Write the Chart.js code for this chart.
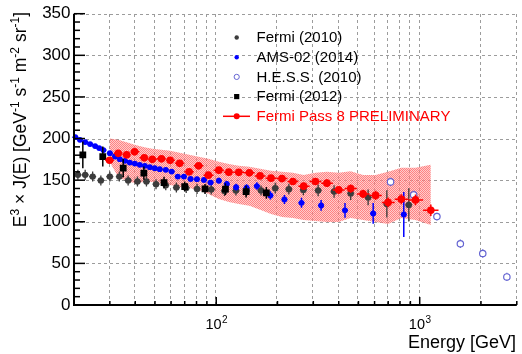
<!DOCTYPE html>
<html>
<head>
<meta charset="utf-8">
<script src="https://cdn.jsdelivr.net/npm/chart.js@4.4.0/dist/chart.umd.min.js"></script>
<style>
  html, body { margin: 0; padding: 0; background: #fff; }
  #wrap { width: 522px; height: 354px; }
</style>
</head>
<body>
<div id="wrap"><canvas id="c" width="522" height="354"></canvas></div>
<script>
// values (E in GeV, E^3 J(E) in GeV^2 s^-1 m^-2 sr^-1)
const amsE = [20.3, 21.4, 22.7, 24.0, 25.4, 26.6, 27.9, 30.0, 31.8, 33.6, 35.6, 37.6, 39.8, 42.1, 44.6, 47.2, 49.9, 52.8, 56.5, 60.4,
  64.7, 69.4, 74.8, 80.4, 87.0, 93.8, 103, 112.7, 125.3, 141, 158.4, 184.5, 216.4, 262.4, 327.6, 429.4, 590.6, 835];
const amsFlux = [201.7, 198.4, 195.7, 193.3, 190.9, 188.5, 186.1, 182.4, 178.4, 175.2, 173.2, 171.1, 169.9, 168.4, 167.2, 165.6, 164.4, 163.2, 162.4, 160.3,
  154.3, 154.3, 151.5, 151.2, 150.3, 147.1, 149.4, 145.5, 141.6, 141, 142.9, 131.7, 126.8, 122.8, 119.6, 113.7, 110.0, 108.8];
const amsErr = [2.5, 2.5, 2.5, 2.5, 2.5, 2.5, 2.5, 2.5, 2.5, 2.5, 2.5, 2.5, 2.5, 2.5, 2.5, 2.5, 2.5, 2.5, 2.5, 2.5,
  3, 3, 3, 3, 3, 3, 3.5, 3.5, 4, 4, 4.5, 5, 5.5, 6, 6.5, 9, 12.5, 27];

const fermi10E = [20.9, 22.7, 24.7, 27.1, 30.0, 33.4, 36.9, 41.0, 45.4, 50.6, 56.5, 63.7, 71.2, 80.5, 94.5, 109.8, 125, 140.7,
  166, 195, 227.5, 268, 316.8, 379.5, 458, 557.8, 689.4, 883.6];
const fermi10Flux = [156.4, 156.4, 154.3, 149.7, 154.3, 154.3, 149.7, 148.3, 148.3, 145.2, 144.0, 141.1, 140.7, 139.5, 138.9, 137.1, 137.5, 137.1,
  137.7, 140.4, 139.2, 138.3, 137.7, 136.3, 134.1, 129.3, 121.5, 120.3];
const fermi10Err = [6, 6, 6, 6, 6, 6, 6, 6, 6, 6, 6, 6, 6, 6, 6, 6, 6, 6, 6, 6.5, 6.5, 6.5, 7, 7.5, 8, 9.5, 16.5, 20];

const fermi12E = [22.1, 27.7, 34.9, 44.1, 55.4, 70.0, 88.1, 111, 140.2, 176.3];
const fermi12Flux = [180.4, 178.4, 164.4, 158.4, 147.1, 142.3, 139.5, 139.2, 136.3, 134.7];
const fermi12Err = [16, 12, 11, 8, 7, 6, 6, 7, 7, 7];

const hessE = [719, 934, 1215, 1584, 2041, 2681];
const hessFlux = [147.9, 132.3, 106.2, 73.6, 61.9, 33.7];
const hessErr = [5, 5, 4.5, 5, 5, 5];

const pass8E = [29.9, 33.0, 36.3, 39.7, 44.3, 48.5, 53.8, 59.4, 66.1, 73.6, 81.9, 91.5, 103, 115.3, 129, 145.5,
  164.2, 185.9, 210.4, 238.2, 269, 307.3, 349.8, 400, 458, 527, 607, 699, 812, 953, 1134];
const pass8Flux = [174.0, 182.2, 180.4, 184.0, 176.8, 175.0, 175.6, 173.8, 170.2, 160.0, 167.2, 156.0, 162.0, 159.6, 159.4, 158.8,
  155.1, 152.4, 151.9, 148.3, 142.8, 148.3, 146.4, 138.3, 139.9, 133.5, 131.7, 123.3, 127.2, 126.3, 113.8];
const pass8Err = [3, 3, 3, 3, 3, 3, 3, 3, 3, 3, 3, 3, 3, 3, 3, 3, 3.5, 3.5, 3.5, 4, 4, 4, 4.5, 4.5, 5, 5, 5.5, 6, 6, 6.5, 7];
// systematic band
const pass8BandHi = [200.2, 198.4, 195.4, 192.4, 189.4, 187.6, 186.4, 185.2, 182.8, 180.4, 178.0, 175.6, 172.0, 169.5, 167.2, 166.0,
  163.6, 161.2, 160.0, 158.8, 156.3, 158.8, 160.0, 158.8, 160.6, 156.3, 156.3, 160.0, 164.8, 164.8, 168.4];
const pass8BandLo = [172.0, 153.9, 149.1, 146.7, 147.9, 147.9, 145.5, 144.3, 141.9, 140.7, 138.3, 133.5, 127.5, 123.9, 121.5, 119.1,
  114.3, 109.4, 105.8, 104.6, 102.2, 101.0, 99.8, 99.8, 104.6, 102.2, 99.8, 97.4, 104.6, 102.2, 96.2];

const xRange = [20, 3000];
const yRange = [0, 350];
const xGridValues = [30, 40, 50, 60, 70, 80, 90, 100, 200, 300, 400, 500, 600, 700, 800, 900, 1000, 2000, 3000];
const xMinorTicks = [20, 30, 40, 50, 60, 70, 80, 90, 200, 300, 400, 500, 600, 700, 800, 900, 2000, 3000];
const xDecades = [100, 1000];
const legendLabels = ['Fermi (2010)', 'AMS-02 (2014)', 'H.E.S.S. (2010)', 'Fermi (2012)', 'Fermi Pass 8 PRELIMINARY'];

const FONT = '"Liberation Sans", Arial, Helvetica, sans-serif';
const toXY = (xs, ys) => xs.map((x, i) => ({ x: x, y: ys[i] }));

// checkered fill like ROOT style 3001
function checkerPattern() {
  const c = document.createElement('canvas');
  c.width = 2; c.height = 2;
  const g = c.getContext('2d');
  g.fillStyle = 'rgba(255,100,100,0.8)';
  g.fillRect(0, 0, 1, 1); g.fillRect(1, 1, 1, 1);
  g.fillStyle = 'rgba(255,160,160,0.55)';
  g.fillRect(1, 0, 1, 1); g.fillRect(0, 1, 1, 1);
  return document.getElementById('c').getContext('2d').createPattern(c, 'repeat');
}

// error bars, drawn just before each dataset's markers
const errorBars = {
  id: 'errorBars',
  beforeDatasetDraw(chart, args) {
    const ds = chart.data.datasets[args.index];
    if (!ds.errY) return;
    const ys = chart.scales.y;
    const pts = args.meta.data;
    const ctx = chart.ctx;
    ctx.save();
    ctx.strokeStyle = ds.errColor;
    ctx.lineWidth = ds.errWidth;
    pts.forEach((pt, i) => {
      const v = ds.data[i].y, e = ds.errY[i];
      ctx.beginPath();
      ctx.moveTo(pt.x, ys.getPixelForValue(v + e));
      ctx.lineTo(pt.x, ys.getPixelForValue(v - e));
      let hl = ds.errXpx || 0, hr = hl;
      if (ds.errXBins) {
        const prev = pts[i - 1], next = pts[i + 1];
        hl = prev ? (pt.x - prev.x) / 2 : (next.x - pt.x) / 2;
        hr = next ? (next.x - pt.x) / 2 : hl;
      }
      if (hl || hr) {
        ctx.moveTo(pt.x - hl, pt.y);
        ctx.lineTo(pt.x + hr, pt.y);
      }
      ctx.stroke();
    });
    ctx.restore();
  }
};

// ROOT-like frame: dashed grid, inward ticks, labels, legend
const rootFrame = {
  id: 'rootFrame',
  beforeDatasetsDraw(chart) {
    const { ctx, chartArea: a, scales: { x, y } } = chart;
    ctx.save();
    ctx.strokeStyle = '#9c9c9c';
    ctx.lineWidth = 1;
    ctx.setLineDash([3, 3]);
    xGridValues.forEach(v => {
      const px = Math.round(x.getPixelForValue(v)) - 0.5;
      ctx.beginPath(); ctx.moveTo(px, a.bottom); ctx.lineTo(px, a.top); ctx.stroke();
    });
    for (let v = 50; v <= yRange[1]; v += 50) {
      const py = Math.round(y.getPixelForValue(v)) + 0.5;
      ctx.beginPath(); ctx.moveTo(a.left, py); ctx.lineTo(a.right, py); ctx.stroke();
    }
    ctx.restore();
  },
  afterDatasetsDraw(chart) {
    const { ctx, chartArea: a, scales: { x, y } } = chart;
    ctx.save();
    // axes
    ctx.strokeStyle = '#000';
    ctx.lineWidth = 2;
    ctx.beginPath();
    ctx.moveTo(a.left, a.top); ctx.lineTo(a.left, a.bottom); ctx.lineTo(a.right, a.bottom);
    ctx.stroke();
    ctx.lineWidth = 1.5;
    for (let v = 0; v <= yRange[1]; v += 10) {
      const py = y.getPixelForValue(v);
      const len = v % 50 === 0 ? 11 : 6;
      ctx.beginPath(); ctx.moveTo(a.left, py); ctx.lineTo(a.left + len, py); ctx.stroke();
    }
    xMinorTicks.forEach(v => {
      const px = x.getPixelForValue(v);
      ctx.beginPath(); ctx.moveTo(px, a.bottom); ctx.lineTo(px, a.bottom - 4); ctx.stroke();
    });
    xDecades.forEach(v => {
      const px = x.getPixelForValue(v);
      ctx.beginPath(); ctx.moveTo(px, a.bottom); ctx.lineTo(px, a.bottom - 8); ctx.stroke();
    });

    // x labels 10^n
    ctx.fillStyle = '#000';
    ctx.textBaseline = 'alphabetic';
    ctx.textAlign = 'left';
    xDecades.forEach(v => {
      const px = x.getPixelForValue(v);
      const exp = String(Math.round(Math.log10(v)));
      ctx.font = '14.5px ' + FONT;
      const w1 = ctx.measureText('10').width;
      ctx.font = '10px ' + FONT;
      const w2 = ctx.measureText(exp).width;
      const x0 = px - (w1 + w2) / 2;
      ctx.font = '14.5px ' + FONT;
      ctx.fillText('10', x0, 328.5);
      ctx.font = '10px ' + FONT;
      ctx.fillText(exp, x0 + w1 + 0.5, 322.5);
    });

    // x title
    ctx.font = '18px ' + FONT;
    ctx.textAlign = 'right';
    ctx.fillText('Energy [GeV]', 516, 348);

    // y title, rotated, right-aligned to top
    const parts = [['E', 0], ['3', 1], [' \u00d7 J(E) [GeV', 0], ['-1', 1], [' s', 0], ['-1', 1],
      [' m', 0], ['-2', 1], [' sr', 0], ['-1', 1], [']', 0]];
    const fMain = '17.5px ' + FONT, fSup = '12px ' + FONT;
    let total = 0;
    parts.forEach(p => { ctx.font = p[1] ? fSup : fMain; total += ctx.measureText(p[0]).width; });
    ctx.save();
    ctx.translate(26, 12 + total);
    ctx.rotate(-Math.PI / 2);
    ctx.textAlign = 'left';
    let cx = 0;
    parts.forEach(p => {
      ctx.font = p[1] ? fSup : fMain;
      ctx.fillText(p[0], cx, p[1] ? -7 : 0);
      cx += ctx.measureText(p[0]).width;
    });
    ctx.restore();

    // legend
    const mx = 236.7, tx = 256.5;
    const rows = [37.5, 57.2, 76.9, 96.6, 116.3];
    ctx.textAlign = 'left';
    ctx.textBaseline = 'middle';
    ctx.font = '15px ' + FONT;
    legendLabels.forEach((t, i) => {
      const ry = rows[i];
      ctx.fillStyle = i === 4 ? '#ff0000' : '#000';
      ctx.fillText(t, tx, ry + 0.5);
    });
    ctx.fillStyle = '#3c3c3c';
    ctx.beginPath(); ctx.arc(mx, rows[0], 2.2, 0, Math.PI * 2); ctx.fill();
    ctx.fillStyle = '#0000ff';
    ctx.beginPath(); ctx.arc(mx, rows[1], 2.2, 0, Math.PI * 2); ctx.fill();
    ctx.strokeStyle = '#6464d2'; ctx.lineWidth = 1;
    ctx.beginPath(); ctx.arc(mx, rows[2], 2.6, 0, Math.PI * 2); ctx.stroke();
    ctx.fillStyle = '#000';
    ctx.fillRect(mx - 2.6, rows[3] - 2.6, 5.2, 5.2);
    ctx.strokeStyle = '#ff0000'; ctx.lineWidth = 1.5;
    ctx.beginPath(); ctx.moveTo(223, rows[4]); ctx.lineTo(250, rows[4]); ctx.stroke();
    ctx.fillStyle = '#ff0000';
    ctx.beginPath(); ctx.arc(mx, rows[4], 3, 0, Math.PI * 2); ctx.fill();
    ctx.restore();
  }
};

const datasets = [
  {
    label: 'Fermi Pass 8 PRELIMINARY', data: toXY(pass8E, pass8Flux),
    pointStyle: 'circle', pointRadius: 3.8, backgroundColor: '#ff0000', borderColor: '#ff0000', borderWidth: 0,
    errY: pass8Err, errXBins: true, errColor: '#ff0000', errWidth: 1.5
  },
  {
    label: 'Fermi (2012)', data: toXY(fermi12E, fermi12Flux),
    pointStyle: 'rect', pointRadius: 4.8, backgroundColor: '#000', borderColor: '#000', borderWidth: 0,
    errY: fermi12Err, errXpx: 0, errColor: '#000', errWidth: 1.5
  },
  {
    label: 'H.E.S.S. (2010)', data: toXY(hessE, hessFlux),
    pointStyle: 'circle', pointRadius: 3.2, backgroundColor: '#fff', borderColor: '#6464d2', borderWidth: 1.2,
    errY: hessErr, errXpx: 0, errColor: '#6464d2', errWidth: 1.2
  },
  {
    label: 'AMS-02 (2014)', data: toXY(amsE, amsFlux),
    pointStyle: 'circle', pointRadius: 2.9, backgroundColor: '#0000ff', borderColor: '#0000ff', borderWidth: 0,
    errY: amsErr, errXpx: 3, errColor: '#0000ff', errWidth: 1.5
  },
  {
    label: 'Fermi (2010)', data: toXY(fermi10E, fermi10Flux),
    pointStyle: 'circle', pointRadius: 3.2, backgroundColor: '#3c3c3c', borderColor: '#3c3c3c', borderWidth: 0,
    errY: fermi10Err, errXpx: 3.5, errColor: '#3c3c3c', errWidth: 1.3
  },
  {
    type: 'line', label: 'band hi', data: toXY(pass8E, pass8BandHi),
    borderWidth: 0, pointRadius: 0, tension: 0, fill: '+1', backgroundColor: checkerPattern()
  },
  {
    type: 'line', label: 'band lo', data: toXY(pass8E, pass8BandLo),
    borderWidth: 0, pointRadius: 0, tension: 0, fill: false
  }
];

new Chart(document.getElementById('c'), {
  type: 'scatter',
  data: { datasets: datasets },
  options: {
    responsive: false,
    animation: false,
    devicePixelRatio: 1,
    events: [],
    layout: { padding: { top: 13.5, right: 3.5, left: 0, bottom: 0 } },
    plugins: { legend: { display: false }, tooltip: { enabled: false } },
    scales: {
      x: {
        type: 'logarithmic', min: xRange[0], max: xRange[1],
        ticks: { display: false },
        grid: { display: false, drawTicks: false },
        border: { display: false },
        afterFit(s) { s.height = 49; }
      },
      y: {
        type: 'linear', min: yRange[0], max: yRange[1],
        ticks: { stepSize: 50, color: '#000', padding: 3.5, font: { family: FONT, size: 17 } },
        grid: { display: false, drawTicks: false },
        border: { display: false },
        afterFit(s) { s.width = 74; }
      }
    }
  },
  plugins: [errorBars, rootFrame]
});
</script>
</body>
</html>
